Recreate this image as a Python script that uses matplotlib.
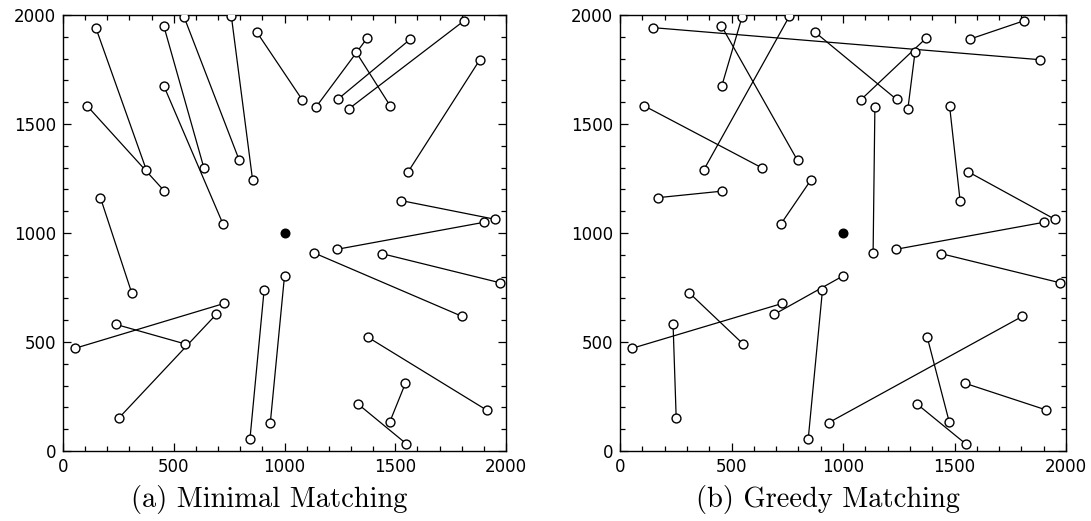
import matplotlib
matplotlib.use("Agg")
import matplotlib.pyplot as plt
from matplotlib.ticker import MultipleLocator

# Point set (x, y) shared by both matchings
px = [148, 376, 109, 458, 169, 310, 455, 636, 456, 722,
      547, 796, 760, 856, 876, 1080, 1143, 1374, 1323, 1478,
      1240, 1568, 1291, 1810, 1559, 1882, 1525, 1950, 1900, 1236,
      1135, 1803, 1441, 1972, 1000, 936, 908, 844, 1378, 1912,
      1546, 1476, 1330, 1550, 54, 728, 238, 552, 252, 692]
py = [1942, 1290, 1583, 1192, 1162, 726, 1950, 1299, 1673, 1042,
      1990, 1333, 1995, 1243, 1920, 1611, 1579, 1895, 1830, 1582,
      1613, 1889, 1570, 1973, 1282, 1795, 1149, 1063, 1049, 925,
      908, 617, 905, 772, 803, 130, 739, 55, 521, 188,
      311, 135, 217, 33, 471, 677, 581, 491, 151, 627]

# Depot location
depot = (1000, 1000)

# Pairs of point indices joined by each matching
minimal_pairs = [(0, 1), (2, 3), (4, 5), (6, 7), (8, 9), (10, 11), (12, 13),
                 (14, 15), (16, 17), (18, 19), (20, 21), (22, 23), (24, 25),
                 (26, 27), (28, 29), (30, 31), (32, 33), (34, 35), (36, 37),
                 (38, 39), (40, 41), (42, 43), (44, 45), (46, 47), (48, 49)]
greedy_pairs = [(0, 25), (6, 11), (10, 8), (12, 1), (2, 7), (4, 3), (9, 13),
                (14, 20), (17, 15), (18, 22), (21, 23), (16, 30), (19, 26),
                (24, 27), (28, 29), (32, 33), (31, 35), (38, 41), (40, 39),
                (42, 43), (44, 45), (5, 47), (46, 48), (37, 36), (49, 34)]

captions = ["(a) Minimal Matching", "(b) Greedy Matching"]
ticks = [0, 500, 1000, 1500, 2000]

fig = plt.figure(figsize=(10.91, 5.21), dpi=100)
boxes = [[63 / 1091, 70 / 521, 443 / 1091, 436 / 521],
         [620 / 1091, 70 / 521, 446 / 1091, 436 / 521]]

for box, pairs, cap in zip(boxes, [minimal_pairs, greedy_pairs], captions):
    ax = fig.add_axes(box)
    for i, j in pairs:
        ax.plot([px[i], px[j]], [py[i], py[j]], color="black", lw=0.9,
                zorder=2)
    ax.plot(px, py, linestyle="none", marker="o", ms=6.4, mfc="white",
            mec="black", mew=1.0, zorder=3)
    ax.plot([depot[0]], [depot[1]], linestyle="none", marker="o", ms=6.2,
            color="black", zorder=4)
    ax.set_xlim(0, 2000)
    ax.set_ylim(0, 2000)
    ax.set_xticks(ticks)
    ax.set_yticks(ticks)
    ax.xaxis.set_minor_locator(MultipleLocator(100))
    ax.yaxis.set_minor_locator(MultipleLocator(100))
    ax.tick_params(which="both", direction="in", top=True, right=True,
                   labelsize=12, width=0.9, colors="black")
    ax.tick_params(which="major", length=6, pad=5)
    ax.tick_params(which="minor", length=3.5)
    for lab in ax.get_xticklabels() + ax.get_yticklabels():
        lab.set_family("DejaVu Sans")
    for s in ax.spines.values():
        s.set_linewidth(1.0)
    cx = box[0] + box[2] / 2 - 15 / 1091
    fig.text(cx, 1 - 500 / 521, cap, ha="center", va="center",
             family="cmr10", fontsize=20.5)

fig.savefig("out.png", dpi=100)
